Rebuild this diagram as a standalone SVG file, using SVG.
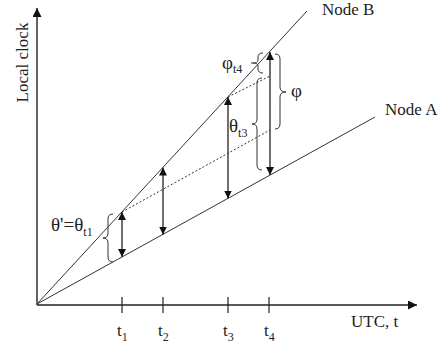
<svg xmlns="http://www.w3.org/2000/svg" width="443" height="347" viewBox="0 0 443 347">
<defs>
<marker id="ah" viewBox="0 0 10 10" refX="10" refY="5" markerWidth="9" markerHeight="9" markerUnits="userSpaceOnUse" orient="auto-start-reverse">
<path d="M0,0 L10,5 L0,10 z" fill="#111"/>
</marker>
<marker id="ahs" viewBox="0 0 10 10" refX="10" refY="5" markerWidth="8" markerHeight="8" markerUnits="userSpaceOnUse" orient="auto-start-reverse">
<path d="M0,0 L10,5 L0,10 z" fill="#111"/>
</marker>
</defs>
<style>
.ax{stroke:#222;stroke-width:1.4;fill:none}
.ln{stroke:#333;stroke-width:1;fill:none}
.ar{stroke:#222;stroke-width:1.3;fill:none}
.dt{stroke:#333;stroke-width:1;fill:none;stroke-dasharray:2,2}
.br{stroke:#333;stroke-width:1;fill:none}
.tk{stroke:#222;stroke-width:1.2}
text{font-family:"Liberation Serif","Times New Roman",serif;fill:#222;font-size:17px}
.gk{font-size:19px}
.sub{font-size:12px}
</style>
<rect width="443" height="347" fill="#fff"/>
<g id="axes">
<line class="ax" x1="37" y1="305" x2="37" y2="8" marker-end="url(#ah)"/>
<line class="ax" x1="37" y1="305" x2="417" y2="305" marker-end="url(#ah)"/>
<line class="tk" x1="122" y1="297" x2="122" y2="313"/>
<line class="tk" x1="163" y1="297" x2="163" y2="313"/>
<line class="tk" x1="228" y1="297" x2="228" y2="313"/>
<line class="tk" x1="269" y1="297" x2="269" y2="313"/>
<text transform="translate(27.5,62.5) rotate(-90)" text-anchor="middle">Local clock</text>
<text x="351" y="327">UTC, t</text>
<text x="117" y="336">t<tspan class="sub" dy="5">1</tspan></text>
<text x="158" y="336">t<tspan class="sub" dy="5">2</tspan></text>
<text x="223" y="336">t<tspan class="sub" dy="5">3</tspan></text>
<text x="264" y="336">t<tspan class="sub" dy="5">4</tspan></text>
</g>
<g id="nodeB">
<line class="ln" x1="37" y1="304" x2="307" y2="11"/>
<text x="322" y="15">Node B</text>
</g>
<g id="nodeA">
<line class="ln" x1="37" y1="304" x2="375" y2="117"/>
<text x="385" y="115">Node A</text>
</g>
<g id="connectors">
<line class="ar" x1="122" y1="212" x2="122" y2="257" marker-start="url(#ahs)" marker-end="url(#ahs)"/>
<line class="ar" x1="163" y1="167.5" x2="163" y2="234.5" marker-start="url(#ahs)" marker-end="url(#ahs)"/>
<line class="ar" x1="228" y1="97" x2="228" y2="198.5" marker-start="url(#ahs)" marker-end="url(#ahs)"/>
<line class="ar" x1="270" y1="52" x2="270" y2="175" marker-start="url(#ahs)" marker-end="url(#ahs)"/>
<line class="dt" x1="122" y1="212" x2="270" y2="130"/>
<line class="dt" x1="228" y1="97" x2="270" y2="76"/>
</g>
<g id="brace-theta1">
<path class="br" d="M113,214 Q108,214 108,219 L108,233 Q108,238 103,238 Q108,238 108,243 L108,257 Q108,262 113,262"/>
<text x="51" y="231" class="gk">θ'=θ<tspan class="sub" dy="5">t1</tspan></text>
</g>
<g id="brace-theta3">
<path class="br" d="M262,78 Q257,78 257,83 L257,119 Q257,124 252,124 Q257,124 257,129 L257,165 Q257,170 262,170"/>
<text x="229" y="132" class="gk">θ<tspan class="sub" dy="5">t3</tspan></text>
</g>
<g id="brace-phit4">
<path class="br" d="M263,53 Q258,53 258,57 L258,60 Q258,63 253,63 L251,63 M253,63 Q258,63 258,66 L258,69 Q258,73 263,73"/>
<text x="222" y="69" class="gk">φ<tspan class="sub" dy="4">t4</tspan></text>
</g>
<g id="brace-phi">
<path class="br" d="M275,54 Q280,54 280,59 L280,87 Q280,92 286,92 Q280,92 280,97 L280,124 Q280,129 275,129"/>
<text x="291" y="97" class="gk">φ</text>
</g>
</svg>
